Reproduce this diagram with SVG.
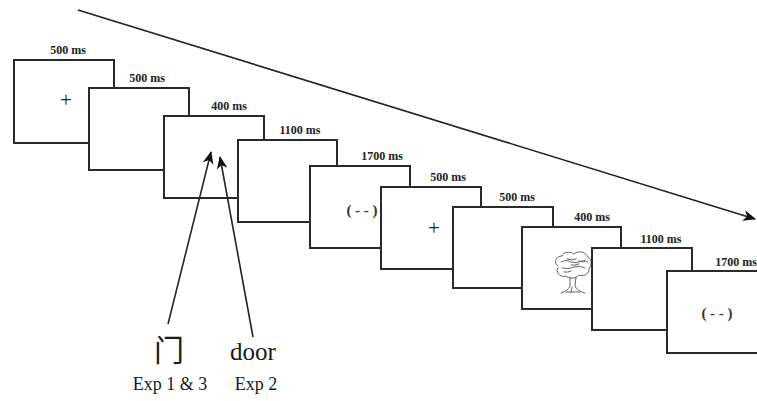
<svg xmlns="http://www.w3.org/2000/svg" width="757" height="401" viewBox="0 0 757 401">
<style>
.frame{fill:#fff;stroke:#2a2a2a;stroke-width:2}
.dur{font-family:"Liberation Serif",serif;font-size:12px;font-weight:bold;fill:#222;text-anchor:middle}
.plus{font-family:"Liberation Serif",serif;font-size:21px;fill:#222;text-anchor:middle}
.mask{font-family:"Liberation Serif",serif;font-size:15px;font-weight:bold;fill:#333;text-anchor:middle}
.lbl{font-family:"Liberation Serif",serif;fill:#1a1a1a;text-anchor:middle}
.conn{stroke:#222;stroke-width:1.6;fill:none}
.tree{fill:none;stroke:#666;stroke-width:1;stroke-linecap:round}
</style>
<defs>
<marker id="ah" viewBox="0 0 12 10" refX="11" refY="5" markerWidth="13" markerHeight="11" markerUnits="userSpaceOnUse" orient="auto">
<path d="M0,0 L12,5 L0,10 L3.5,5 Z" fill="#111"/>
</marker>
</defs>
<rect width="757" height="401" fill="#fff"/>

<g id="timeline" class="connectors">
<line class="conn" x1="78" y1="10" x2="755" y2="219" marker-end="url(#ah)"/>
</g>

<g id="frame1"><rect class="frame" x="14" y="60" width="100" height="83"/><text class="dur" x="68" y="54">500 ms</text><text class="plus" x="66" y="107">+</text></g>
<g id="frame2"><rect class="frame" x="89" y="88" width="100" height="82"/><text class="dur" x="147" y="82">500 ms</text></g>
<g id="frame3"><rect class="frame" x="164" y="116" width="100" height="82"/><text class="dur" x="229" y="110">400 ms</text></g>
<g id="frame4"><rect class="frame" x="238" y="140" width="99" height="82"/><text class="dur" x="300" y="134">1100 ms</text></g>
<g id="frame5"><rect class="frame" x="310" y="166" width="100" height="82"/><text class="dur" x="382" y="160">1700 ms</text><text class="mask" x="362" y="215">( - - )</text></g>
<g id="frame6"><rect class="frame" x="381" y="187" width="100" height="82"/><text class="dur" x="448" y="181">500 ms</text><text class="plus" x="434" y="235">+</text></g>
<g id="frame7"><rect class="frame" x="453" y="207" width="100" height="81"/><text class="dur" x="517" y="201">500 ms</text></g>
<g id="frame8"><rect class="frame" x="522" y="227" width="99" height="82"/><text class="dur" x="592" y="221">400 ms</text>
<g class="tree">
<path d="M558,266 C553,263 556,256 562,256 C563,252 570,251 574,254 C578,250 586,252 588,257 C592,259 592,266 589,268 C590,274 583,277 579,275 C576,279 568,279 566,276 C560,278 555,272 558,268"/>
<path d="M561,262 q5,-3 10,0 q5,2 11,-1 q3,-1 6,1"/>
<path d="M562,268 q6,2 12,-1 q5,-2 11,1"/>
<path d="M567,259 q4,2 9,0 M571,265 q4,1 8,-1 M579,261 q3,2 6,0 M564,272 q4,1 7,-1"/>
<path d="M570,277 L570,286 Q568,291 561,293 M576,277 L575,286 Q577,291 585,293 M572,287 L571,293 M566,292 L580,292"/>
</g>
</g>
<g id="frame9"><rect class="frame" x="592" y="248" width="100" height="82"/><text class="dur" x="661" y="243">1100 ms</text></g>
<g id="frame10"><rect class="frame" x="667" y="271" width="100" height="82"/><text class="dur" x="736" y="266">1700 ms</text><text class="mask" x="717" y="318">( - - )</text></g>

<g id="connectors">
<line class="conn" x1="168" y1="324" x2="211" y2="152" marker-end="url(#ah)"/>
<line class="conn" x1="253" y1="337" x2="220" y2="157" marker-end="url(#ah)"/>
</g>

<g id="stim-cjk"><text class="lbl" x="169" y="361" style="font-family:'Noto Sans CJK SC',sans-serif;font-size:30px">门</text><text class="lbl" x="170" y="390" font-size="18">Exp 1 &amp; 3</text></g>
<g id="stim-en"><text class="lbl" x="253" y="360" font-size="25">door</text><text class="lbl" x="256" y="390" font-size="18">Exp 2</text></g>
</svg>
